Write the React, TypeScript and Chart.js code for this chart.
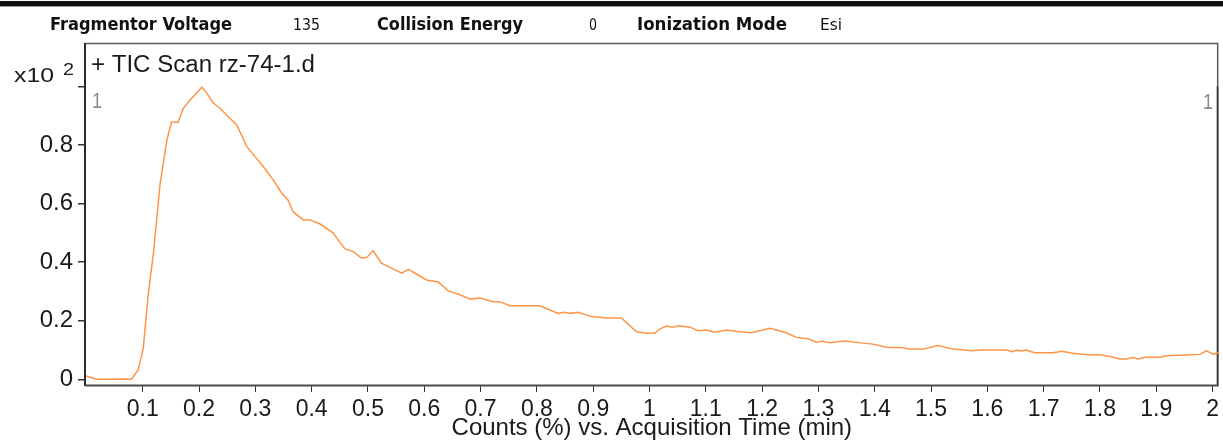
import React, { useEffect, useRef } from "react";
import { Chart, registerables } from "chart.js";

Chart.register(...registerables);

// Acquisition time (min)
const times: number[] = [
  0.0, 0.018, 0.042, 0.066, 0.080, 0.092, 0.101, 0.110, 0.119, 0.131,
  0.143, 0.151, 0.163, 0.172, 0.184, 0.205, 0.214, 0.225, 0.237, 0.252,
  0.267, 0.285, 0.302, 0.314, 0.332, 0.347, 0.358, 0.367, 0.385, 0.397,
  0.415, 0.438, 0.450, 0.459, 0.474, 0.489, 0.498, 0.509, 0.524, 0.539,
  0.560, 0.572, 0.589, 0.604, 0.625, 0.643, 0.660, 0.681, 0.699, 0.722,
  0.734, 0.752, 0.805, 0.820, 0.838, 0.847, 0.859, 0.873, 0.897, 0.912,
  0.921, 0.950, 0.977, 0.995, 1.009, 1.018, 1.030, 1.042, 1.051, 1.072,
  1.086, 1.101, 1.116, 1.137, 1.155, 1.181, 1.214, 1.243, 1.261, 1.282,
  1.297, 1.305, 1.320, 1.347, 1.368, 1.397, 1.421, 1.450, 1.462, 1.486,
  1.512, 1.539, 1.572, 1.587, 1.634, 1.643, 1.652, 1.660, 1.669, 1.684,
  1.717, 1.732, 1.752, 1.776, 1.800, 1.820, 1.835, 1.847, 1.859, 1.868,
  1.880, 1.907, 1.918, 1.954, 1.977, 1.989, 2.001, 2.013,
];

// Total ion current, counts (x10^2)
const counts: number[] = [
  0.011, 0.0, 0.0, 0.001, 0.0, 0.032, 0.106, 0.294, 0.43, 0.669,
  0.817, 0.877, 0.877, 0.925, 0.953, 0.997, 0.976, 0.944, 0.925, 0.896,
  0.868, 0.794, 0.754, 0.726, 0.68, 0.635, 0.612, 0.572, 0.544, 0.544,
  0.53, 0.5, 0.468, 0.446, 0.436, 0.413, 0.416, 0.439, 0.396, 0.382,
  0.362, 0.375, 0.356, 0.339, 0.332, 0.301, 0.291, 0.274, 0.277, 0.265,
  0.265, 0.251, 0.251, 0.239, 0.225, 0.229, 0.225, 0.229, 0.214, 0.212,
  0.209, 0.209, 0.162, 0.157, 0.157, 0.171, 0.182, 0.178, 0.183, 0.178,
  0.166, 0.168, 0.161, 0.168, 0.163, 0.159, 0.174, 0.159, 0.143, 0.138,
  0.126, 0.131, 0.125, 0.131, 0.126, 0.12, 0.109, 0.108, 0.103, 0.103,
  0.115, 0.103, 0.097, 0.1, 0.1, 0.094, 0.099, 0.097, 0.1, 0.091,
  0.091, 0.096, 0.089, 0.084, 0.084, 0.077, 0.069, 0.069, 0.074, 0.069,
  0.075, 0.075, 0.08, 0.083, 0.085, 0.097, 0.086, 0.091,
];

const xTickValues: number[] = [
  0.1, 0.2, 0.3, 0.4, 0.5, 0.6, 0.7, 0.8, 0.9, 1.0,
  1.1, 1.2, 1.3, 1.4, 1.5, 1.6, 1.7, 1.8, 1.9, 2.0,
];
const xTickLabels: string[] = [
  "0.1", "0.2", "0.3", "0.4", "0.5", "0.6", "0.7", "0.8", "0.9", "1",
  "1.1", "1.2", "1.3", "1.4", "1.5", "1.6", "1.7", "1.8", "1.9", "2",
];
const yTickValues: number[] = [0, 0.2, 0.4, 0.6, 0.8, 1.0];
const yTickLabels: string[] = ["0", "0.2", "0.4", "0.6", "0.8", ""];

// Acquisition parameters shown in the header strip
const headerLabels: string[] = ["Fragmentor Voltage", "Collision Energy", "Ionization Mode"];
const headerValues: string[] = ["135", "0", "Esi"];

const traceTitle = "+ TIC Scan rz-74-1.d";
const xTitle = "Counts (%) vs. Acquisition Time (min)";

const SANS = '"Liberation Sans", Arial, sans-serif';
const HEADER_FONT = '"DejaVu Sans", Tahoma, sans-serif';

// Draw text squeezed/stretched horizontally into a given width
function fitText(
  ctx: CanvasRenderingContext2D,
  text: string,
  x: number,
  y: number,
  width: number,
  font: string,
  color: string
) {
  ctx.save();
  ctx.font = font;
  ctx.fillStyle = color;
  ctx.textAlign = "left";
  ctx.textBaseline = "alphabetic";
  const w = ctx.measureText(text).width;
  ctx.translate(x, y);
  ctx.scale(width / w, 1);
  ctx.fillText(text, 0, 0);
  ctx.restore();
}

const decorPlugin = {
  id: "ticDecor",
  beforeDatasetsDraw(chart: any) {
    const { ctx, chartArea } = chart;
    const { left, right, top, bottom } = chartArea;
    const yScale = chart.scales.y;
    const y1 = yScale.getPixelForValue(1);
    ctx.save();
    // frame: top and upper right in thin grey
    ctx.strokeStyle = "#5a5a5a";
    ctx.lineWidth = 1.5;
    ctx.beginPath();
    ctx.moveTo(left, top + 0.5);
    ctx.lineTo(right - 1, top + 0.5);
    ctx.lineTo(right - 1, y1);
    ctx.stroke();
    // right axis below the 1 level
    ctx.strokeStyle = "#3a3a3a";
    ctx.lineWidth = 2;
    ctx.beginPath();
    ctx.moveTo(right - 1, y1);
    ctx.lineTo(right - 1, bottom);
    ctx.stroke();
    // left axis
    ctx.strokeStyle = "#2a2a2a";
    ctx.lineWidth = 2;
    ctx.beginPath();
    ctx.moveTo(left, top);
    ctx.lineTo(left, bottom + 1);
    ctx.stroke();
    // bottom axis
    ctx.strokeStyle = "#4a4a4a";
    ctx.beginPath();
    ctx.moveTo(left, bottom + 0.5);
    ctx.lineTo(right, bottom + 0.5);
    ctx.stroke();
    ctx.restore();
  },
  afterDraw(chart: any) {
    const { ctx, width } = chart;
    ctx.save();
    // header rule
    ctx.fillStyle = "#111";
    ctx.fillRect(0, 1, width, 5);
    ctx.fillStyle = "#999";
    ctx.fillRect(0, 6, width, 1);

    const bold = `bold 17px ${HEADER_FONT}`;
    const normal = `16px ${HEADER_FONT}`;
    fitText(ctx, headerLabels[0], 50, 30, 182, bold, "#111");
    fitText(ctx, headerValues[0], 293, 30, 27, normal, "#111");
    fitText(ctx, headerLabels[1], 377, 30, 146, bold, "#111");
    fitText(ctx, headerValues[1], 589, 30, 8, normal, "#111");
    fitText(ctx, headerLabels[2], 637, 30, 150, bold, "#111");
    fitText(ctx, headerValues[2], 820, 30, 22, normal, "#111");

    // scale factor and trace title
    fitText(ctx, "x10", 14, 82, 40, `21px ${SANS}`, "#1a1a1a");
    fitText(ctx, "2", 63, 75, 11, `17px ${SANS}`, "#1a1a1a");
    fitText(ctx, traceTitle, 91, 72, 224, `23px ${SANS}`, "#1a1a1a");

    // peak markers
    fitText(ctx, "1", 92, 108, 10, `22px ${SANS}`, "#8a8a8a");
    fitText(ctx, "1", 1203, 109, 10, `22px ${SANS}`, "#8a8a8a");
    ctx.restore();
  },
};

export default function App() {
  const canvasRef = useRef<HTMLCanvasElement | null>(null);

  useEffect(() => {
    const canvas = canvasRef.current;
    if (!canvas) return;
    const points = times.map((t, i) => ({ x: t, y: counts[i] }));
    const chart = new Chart(canvas, {
      type: "line",
      data: {
        datasets: [
          {
            data: points,
            borderColor: "#FF9447",
            borderWidth: 1.5,
            pointRadius: 0,
            tension: 0,
            fill: false,
          },
        ],
      },
      options: {
        responsive: false,
        animation: false,
        events: [],
        layout: { padding: { top: 43, right: 4, left: 0, bottom: 0 } },
        plugins: {
          legend: { display: false },
          tooltip: { enabled: false },
          title: { display: false },
        },
        scales: {
          x: {
            type: "linear",
            min: -0.0025,
            max: 2.0108,
            border: { display: false },
            grid: {
              drawOnChartArea: false,
              drawTicks: true,
              tickLength: 7,
              color: "#333",
              lineWidth: 1,
            },
            afterBuildTicks: (scale: any) => {
              scale.ticks = xTickValues.map((v) => ({ value: v }));
            },
            afterFit: (scale: any) => {
              scale.height = 55;
            },
            ticks: {
              autoSkip: false,
              maxRotation: 0,
              padding: 4,
              color: "#1a1a1a",
              font: { family: SANS, size: 23 },
              callback: (_v: any, i: number) => xTickLabels[i],
            },
            title: {
              display: true,
              text: xTitle,
              color: "#1a1a1a",
              font: { family: SANS, size: 24, lineHeight: 1 },
              padding: { top: 0, bottom: 0 },
            },
          },
          y: {
            type: "linear",
            min: -0.0195,
            max: 1.1478,
            border: { display: false },
            grid: {
              drawOnChartArea: false,
              drawTicks: true,
              tickLength: 7,
              color: "#333",
              lineWidth: 1.5,
            },
            afterBuildTicks: (scale: any) => {
              scale.ticks = yTickValues.map((v) => ({ value: v }));
            },
            afterFit: (scale: any) => {
              scale.width = 85;
            },
            ticks: {
              autoSkip: false,
              padding: 5,
              color: "#1a1a1a",
              font: { family: SANS, size: 24 },
              callback: (_v: any, i: number) => yTickLabels[i],
            },
          },
        },
      },
      plugins: [decorPlugin],
    });
    return () => chart.destroy();
  }, []);

  return (
    <div
      style={{
        position: "fixed",
        left: 0,
        top: 0,
        width: 1223,
        height: 440,
        background: "#fff",
      }}
    >
      <canvas ref={canvasRef} width={1223} height={440} style={{ display: "block" }} />
    </div>
  );
}
